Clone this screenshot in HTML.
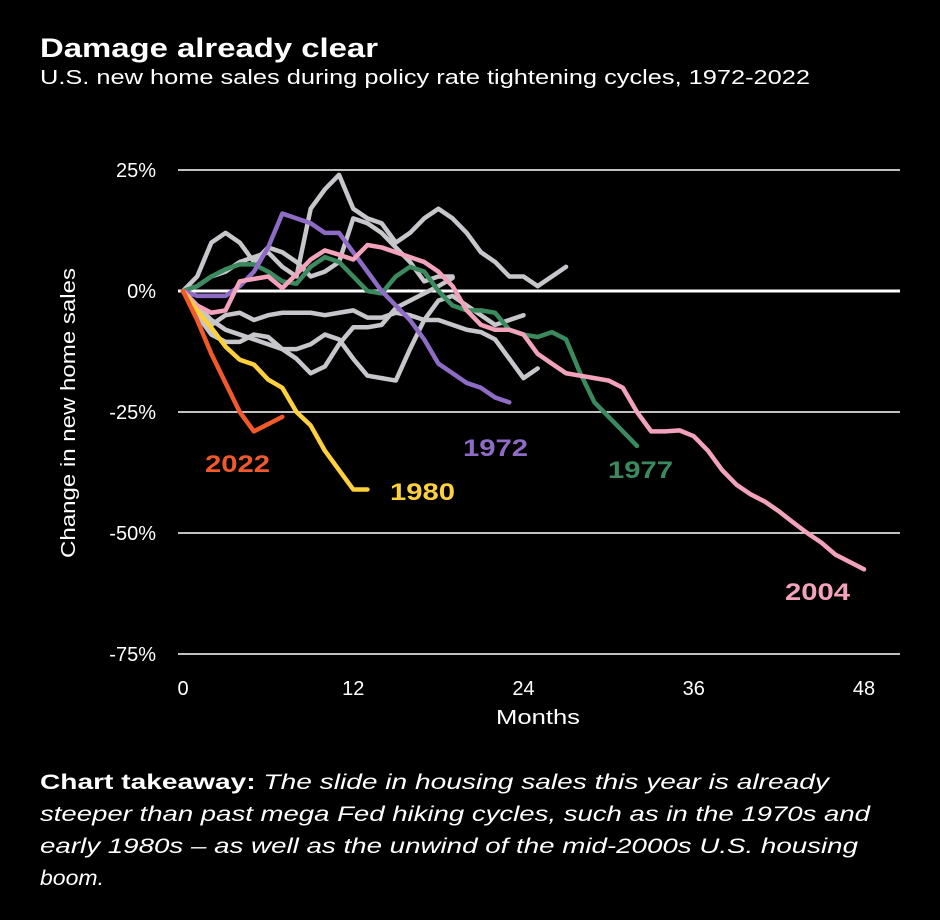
<!DOCTYPE html>
<html><head><meta charset="utf-8"><style>
body{margin:0;background:#000;width:940px;height:920px;overflow:hidden;font-family:"Liberation Sans",sans-serif;color:#fff}
svg{position:absolute;left:0;top:0}
</style></head><body>
<svg width="940" height="920">
<text x="40" y="57" font-size="27" font-weight="bold" fill="#fff" textLength="338" lengthAdjust="spacingAndGlyphs">Damage already clear</text>
<text x="40" y="84" font-size="20" fill="#fff" textLength="770" lengthAdjust="spacingAndGlyphs">U.S. new home sales during policy rate tightening cycles, 1972-2022</text>
<g id="grid"></g><g id="lines"></g><g id="labels"></g>
<text transform="translate(75,413) rotate(-90)" text-anchor="middle" font-size="20" fill="#fff" textLength="290" lengthAdjust="spacingAndGlyphs">Change in new home sales</text>
<text x="538" y="724" text-anchor="middle" font-size="20" fill="#fff" textLength="84" lengthAdjust="spacingAndGlyphs">Months</text>
<g font-size="21" fill="#fff">
<text x="40" y="789" textLength="789" lengthAdjust="spacingAndGlyphs"><tspan font-weight="bold">Chart takeaway:</tspan><tspan font-style="italic"> The slide in housing sales this year is already</tspan></text>
<text x="40" y="821" font-style="italic" textLength="830" lengthAdjust="spacingAndGlyphs">steeper than past mega Fed hiking cycles, such as in the 1970s and</text>
<text x="40" y="853" font-style="italic" textLength="818" lengthAdjust="spacingAndGlyphs">early 1980s – as well as the unwind of the mid-2000s U.S. housing</text>
<text x="40" y="885" font-style="italic" textLength="64" lengthAdjust="spacingAndGlyphs">boom.</text>
</g>
</svg>
<script>
const yTicks=[25,0,-25,-50,-75];
const yTickLabels=["25%","0%","-25%","-50%","-75%"];
const xTicks=[0,12,24,36,48];
const s2022=[0,-6,-13,-19,-25,-29,-27.5,-26];
const s1980=[0,-4,-7.6,-11.5,-14.2,-15.2,-18.3,-20,-25,-27.8,-33,-37,-41,-41];
const s1972=[0,-1,-1,-1,1,4,9,16,15,14,12,12,8,4,0,-3,-6,-10,-15,-17,-19,-20,-22,-23];
const s1977=[0,1,3,4.5,5.5,5.5,4,2,1.5,5,7,6,3,0,-0.5,3,5,4,0,-3,-4,-4,-4.5,-8,-9,-9.5,-8.5,-10,-17,-23,-26,-29,-32];
const s2004=[0,-3,-4.5,-4,2,2.5,3,0.6,3.5,6.5,8.4,7.5,6.5,9.5,9,8,7,6,4,1,-4,-7,-8,-8,-9,-13,-15,-17,-17.5,-18,-18.5,-20,-25,-29,-29,-28.8,-30,-33,-37,-40,-42,-43.5,-45.5,-47.8,-50,-52,-54.5,-56,-57.5];
const g1=[0,1,3,4,6,7,8,5,3,17,21,24,17,15,14,10,12,15,17,15,12,8,6,3,3,1,3,5];
const g2=[0,3,10,12,10,6,9,8,6,3,4,6,15,14,12,9,6,2,3,3];
const g3=[0,-5,-9,-10.5,-10.5,-9,-9.5,-12,-14,-17,-15.6,-11,-7.5,-7.5,-7,-3.5,-2,-0.5,1,2.7];
const g4=[0,-3,-6,-8,-9,-10,-11,-12,-12,-11,-9,-10,-14,-17.5,-18,-18.5,-12,-6,-2,-1,-3,-5,-7,-6,-5];
const g5=[0,-3,-7,-5,-4.5,-6,-5,-4.5,-4.5,-4.5,-5,-4.5,-4,-5.5,-5.5,-4.5,-5,-6,-6,-7,-8,-8.5,-10,-14,-18,-16];
const X=m=>183+m*(864-183)/48;
const Y=v=>291-v*(291-170)/25;
const NS="http://www.w3.org/2000/svg";
function mk(t,a,p){const e=document.createElementNS(NS,t);for(const k in a)e.setAttribute(k,a[k]);p.appendChild(e);return e;}
const grid=document.getElementById('grid');
yTicks.forEach((v,i)=>{
 const l=mk('line',{x1:178,x2:900,y1:Y(v),y2:Y(v),stroke:'#fff','stroke-width':v===0?3:1.5},grid);
 
 
 const t=mk('text',{x:156,y:Y(v)+7,'text-anchor':'end','font-size':20,fill:'#fff'},grid);
 t.textContent=yTickLabels[i];
 
 
});
xTicks.forEach(m=>{
 const t=mk('text',{x:X(m),y:695,'text-anchor':'middle','font-size':20,fill:'#fff'},grid);
 t.textContent=m;
 
 
});
const lines=document.getElementById('lines');
function draw(d,c,name){
 const p=mk('polyline',{points:d.map((v,i)=>X(i)+','+Y(v)).join(' '),fill:'none',stroke:c,'stroke-width':4.5,'stroke-linejoin':'round','stroke-linecap':'round'},lines);
 
 
}
[g1,g2,g3,g4,g5].forEach((g,i)=>draw(g,'#c6c6cb','grey-cycle-line-'+(i+1)));
draw(s1977,'#3b8a5e','line-1977');
draw(s1972,'#8e6cc6','line-1972');
draw(s2004,'#f2a2ba','line-2004');
draw(s1980,'#fdd03c','line-1980');
draw(s2022,'#f05a2a','line-2022');
const labs=document.getElementById('labels');
[["2022",205,472,'#f05a2a'],["1980",390,500,'#fdd03c'],["1972",463,456,'#8e6cc6'],["1977",608,478,'#3b8a5e'],["2004",785,600,'#f2a2ba']].forEach(a=>{
 const t=mk('text',{x:a[1],y:a[2],'font-size':24,'font-weight':'bold',fill:a[3],textLength:65,lengthAdjust:'spacingAndGlyphs'},labs);
 t.textContent=a[0];
 
 
});
</script>
</body></html>
